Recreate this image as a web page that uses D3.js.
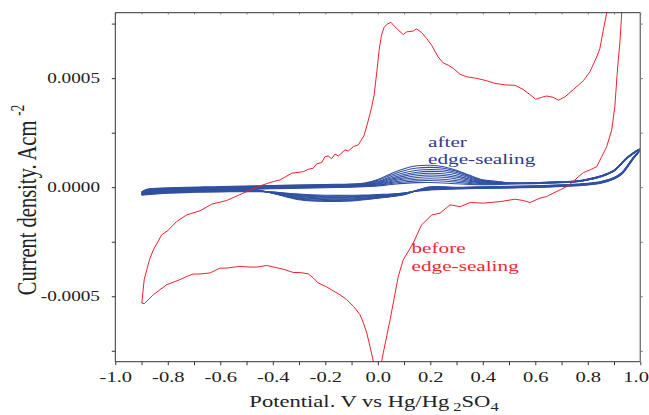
<!DOCTYPE html>
<html><head><meta charset="utf-8">
<script src="https://cdn.jsdelivr.net/npm/d3@7"></script>
<style>body{margin:0;background:#fff}svg{display:block}</style>
</head><body>
<svg id="c" width="649" height="415"></svg>
<script>
// ---------- DATA ----------
// axis ticks
const xMajor = [-1.0,-0.8,-0.6,-0.4,-0.2,0.0,0.2,0.4,0.6,0.8,1.0];
const xLabels = ["-1.0","-0.8","-0.6","-0.4","-0.2","0.0","0.2","0.4","0.6","0.8","1.0"];
const xMinor = [-0.9,-0.7,-0.5,-0.3,-0.1,0.1,0.3,0.5,0.7,0.9];
const yMajor = [-0.0005,0.0,0.0005];
const yLabels = ["-0.0005","0.0000","0.0005"];
const yMinor = [-0.00075,-0.00025,0.00025,0.00075];

// "before edge-sealing" CV loop (V vs Hg/Hg2SO4, current density in 1e-4 A cm^-2)
const redV = [-0.899,-0.890,-0.870,-0.855,-0.823,-0.800,-0.766,-0.728,-0.677,-0.633,-0.576,-0.512,-0.449,-0.398,-0.373,-0.328,-0.284,-0.265,-0.246,-0.233,-0.214,-0.201,-0.189,-0.176,-0.163,-0.150,-0.125,-0.112,-0.093,-0.074,-0.068,-0.053,-0.041,-0.026,-0.014,-0.003,0.005,0.014,0.024,0.035,0.050,0.072,0.097,0.110,0.135,0.148,0.167,0.186,0.205,0.230,0.249,0.269,0.288,0.313,0.339,0.377,0.415,0.446,0.485,0.523,0.554,0.579,0.602,0.624,0.643,0.668,0.688,0.713,0.745,0.783,0.808,0.834,0.846,0.859,0.872,0.890,1.000,0.935,0.929,0.923,0.916,0.912,0.903,0.891,0.872,0.853,0.834,0.808,0.783,0.764,0.745,0.720,0.695,0.669,0.643,0.618,0.580,0.554,0.523,0.466,0.402,0.352,0.314,0.275,0.237,0.206,0.167,0.135,0.097,0.078,0.047,0.021,0.015,0.000,-0.017,-0.030,-0.042,-0.055,-0.068,-0.093,-0.118,-0.144,-0.170,-0.195,-0.227,-0.246,-0.265,-0.297,-0.322,-0.354,-0.379,-0.423,-0.461,-0.487,-0.525,-0.576,-0.601,-0.639,-0.677,-0.703,-0.722,-0.754,-0.804,-0.830,-0.855,-0.890,-0.899];
const redJ = [-5.31,-4.24,-3.33,-2.87,-2.18,-1.99,-1.57,-1.27,-1.08,-0.78,-0.61,-0.27,0.06,0.26,0.33,0.64,0.71,0.82,0.87,1.07,1.13,1.40,1.43,1.31,1.52,1.43,1.71,1.66,1.86,1.94,2.07,2.35,2.85,3.54,4.22,5.37,6.28,6.97,7.33,7.47,7.56,7.27,7.00,7.12,7.16,7.26,7.09,6.82,6.51,5.97,5.70,5.59,5.44,5.18,5.06,4.99,4.88,4.76,4.69,4.67,4.48,4.25,4.03,4.12,4.18,4.12,3.99,4.14,4.48,4.88,5.29,5.97,6.36,7.20,7.99,9.60,16.0,9.20,7.99,6.74,5.82,5.21,3.69,2.62,1.86,1.40,0.94,0.79,0.67,0.48,0.26,0.03,-0.12,-0.27,-0.43,-0.50,-0.70,-0.61,-0.55,-0.66,-0.73,-0.70,-0.89,-0.81,-1.19,-1.27,-1.72,-2.56,-3.33,-4.09,-6.07,-7.59,-7.98,-9.00,-7.98,-7.29,-6.68,-6.22,-5.84,-5.46,-5.16,-4.93,-4.75,-4.57,-4.39,-4.16,-3.97,-3.91,-3.91,-3.78,-3.71,-3.59,-3.66,-3.66,-3.63,-3.71,-3.71,-3.93,-3.98,-3.98,-4.06,-4.24,-4.47,-4.70,-4.93,-5.34,-5.31];

// "after edge-sealing" repeated cycles (current density in 1e-5 A cm^-2)
const blueAnodicLeftV  = [-0.90,-0.88,-0.80,-0.60,-0.40,-0.20,-0.10];
const blueAnodicLeftJ  = [-2.90,-1.70,-1.05,-0.45,0.05,0.50,0.75];
const humpAV = [-0.05,0.00,0.05,0.10,0.15,0.20,0.25,0.30,0.35,0.40,0.45];
const blueAnodicRightV = [0.50,0.60,0.70,0.75,0.80,0.85,0.90,0.95,1.00];
const blueAnodicRightJ = [1.75,1.85,2.30,2.60,3.50,5.00,7.60,13.5,17.4];
const blueCathodicRightV = [0.97,0.93,0.90,0.85,0.80,0.70,0.60,0.50,0.40,0.30];
const blueCathodicRightJ = [12.8,6.40,4.10,2.20,1.40,0.70,0.25,0.00,-0.18,-0.41];
const humpCV = [0.20,0.15,0.10,0.05,0.00,-0.05,-0.10,-0.15,-0.20,-0.25,-0.30,-0.35,-0.40,-0.45,-0.50];
const blueCathodicLeftV = [-0.60,-0.70,-0.80,-0.90];
const blueCathodicLeftJ = [-1.40,-1.60,-2.00,-2.90];
const blueShift = [-0.75,-0.55,-0.40,-0.22,-0.08,0.08,0.25,0.40,0.58,0.75];
const humpA = [
 [1.00,1.35,1.95,2.50,2.85,2.90,2.70,2.35,2.00,1.90,1.88],
 [1.00,1.45,2.25,2.95,3.45,3.60,3.35,2.85,2.25,1.95,1.88],
 [1.02,1.55,2.55,3.45,4.05,4.30,4.05,3.40,2.55,2.00,1.90],
 [1.02,1.65,2.85,3.95,4.70,5.00,4.80,4.00,2.90,2.10,1.90],
 [1.04,1.80,3.20,4.45,5.30,5.65,5.45,4.60,3.25,2.20,1.92],
 [1.05,1.95,3.55,5.00,5.95,6.30,6.10,5.20,3.60,2.30,1.93],
 [1.06,2.10,3.95,5.60,6.65,7.00,6.80,5.80,4.00,2.40,1.95],
 [1.08,2.30,4.40,6.25,7.40,7.75,7.50,6.35,4.30,2.50,1.95],
 [1.10,2.55,4.90,7.00,8.20,8.50,8.10,6.75,4.55,2.60,1.97],
 [1.12,2.80,5.45,7.75,9.06,9.29,8.60,7.00,4.71,2.65,1.97]
];
const humpC = [
 [-0.55,-1.00,-1.90,-2.35,-2.60,-2.85,-2.95,-3.00,-2.95,-2.75,-2.40,-1.95,-1.50,-1.30,-1.30],
 [-0.55,-1.15,-2.15,-2.70,-3.00,-3.30,-3.45,-3.50,-3.45,-3.25,-2.85,-2.30,-1.70,-1.35,-1.30],
 [-0.55,-1.25,-2.40,-3.00,-3.35,-3.70,-3.90,-4.00,-3.95,-3.70,-3.30,-2.65,-1.95,-1.45,-1.35],
 [-0.55,-1.35,-2.65,-3.30,-3.75,-4.15,-4.40,-4.50,-4.45,-4.20,-3.75,-3.00,-2.20,-1.55,-1.35],
 [-0.55,-1.50,-2.90,-3.60,-4.10,-4.55,-4.85,-5.00,-4.95,-4.70,-4.20,-3.35,-2.45,-1.65,-1.40],
 [-0.55,-1.60,-3.15,-3.95,-4.50,-5.00,-5.35,-5.50,-5.45,-5.20,-4.70,-3.75,-2.70,-1.75,-1.40],
 [-0.55,-1.75,-3.40,-4.25,-4.85,-5.40,-5.80,-6.00,-5.95,-5.70,-5.15,-4.15,-2.95,-1.90,-1.42],
 [-0.55,-1.85,-3.65,-4.55,-5.20,-5.80,-6.25,-6.45,-6.45,-6.20,-5.60,-4.50,-3.20,-2.00,-1.44],
 [-0.55,-2.00,-3.95,-4.85,-5.50,-6.15,-6.65,-6.90,-6.90,-6.65,-6.05,-4.80,-3.35,-2.10,-1.45],
 [-0.55,-2.15,-4.21,-5.12,-5.81,-6.50,-7.09,-7.32,-7.32,-7.09,-6.50,-5.12,-3.52,-2.15,-1.46]
];

// ---------- DRAW ----------
const svg = d3.select("#c");
const L = 115.3, R = 640.3, T = 12.7, B = 361.7;
const x = d3.scaleLinear().domain([-1, 1]).range([L, R]);
const y = d3.scaleLinear().domain([-0.0008, 0.0008]).range([B, T]);
const SX = 1.37; // horizontal glyph stretch of the original
const FONT = "'Liberation Serif','Times New Roman',serif";

svg.append("defs").append("clipPath").attr("id","clip")
  .append("rect").attr("x",L).attr("y",T).attr("width",R-L).attr("height",B-T);

const plot = svg.append("g").attr("clip-path","url(#clip)");

// blue cycles
const U5 = 1e-5;
const blueLine = d3.line().x(d=>x(d[0])).y(d=>y(d[1])).curve(d3.curveCatmullRom.alpha(0.5));
humpA.forEach((ha,k)=>{
  const s = blueShift[k];
  const pts = [];
  blueAnodicLeftV.forEach((v,i)=>pts.push([v,(blueAnodicLeftJ[i]+s)*U5]));
  humpAV.forEach((v,i)=>pts.push([v,(ha[i]+s)*U5]));
  blueAnodicRightV.forEach((v,i)=>pts.push([v,(blueAnodicRightJ[i]+s*0.3)*U5]));
  blueCathodicRightV.forEach((v,i)=>pts.push([v,(blueCathodicRightJ[i]+s*0.5)*U5]));
  humpCV.forEach((v,i)=>pts.push([v,(humpC[k][i]+s)*U5]));
  blueCathodicLeftV.forEach((v,i)=>pts.push([v,(blueCathodicLeftJ[i]+s)*U5]));
  plot.append("path").attr("d",blueLine(pts)).attr("fill","none")
    .attr("stroke","#3050a2").attr("stroke-width",1.05);
});

// red curve
const redLine = d3.line().x((d,i)=>x(redV[i])).y((d,i)=>y(redJ[i]*1e-4));
plot.append("path").attr("d",redLine(redV)).attr("fill","none")
  .attr("stroke","#f0212b").attr("stroke-width",1);

// axes
function styleAxis(g, color){
  g.select(".domain").remove();
  g.selectAll(".tick line").attr("stroke",color).attr("stroke-width",1);
}
const gx = svg.append("g").attr("transform",`translate(0,${B})`)
  .call(d3.axisBottom(x).tickValues(xMajor).tickSize(3.5).tickPadding(6.2)
    .tickFormat((d,i)=>xLabels[i]));
styleAxis(gx,"#333");
gx.selectAll("text").attr("font-family",FONT).attr("font-size",15).attr("fill","#222")
  .attr("transform",`scale(${SX},1)`);
// last label sits flush with the right edge
gx.selectAll("text").filter((d,i)=>i===xMajor.length-1)
  .attr("text-anchor","end").attr("x",8.2/SX);
const gx2 = svg.append("g").attr("transform",`translate(0,${B})`)
  .call(d3.axisBottom(x).tickValues(xMinor).tickSize(3.5).tickFormat(""));
styleAxis(gx2,"#333");

const gy = svg.append("g").attr("transform",`translate(${L},0)`)
  .call(d3.axisLeft(y).tickValues(yMajor).tickSize(3.5).tickPadding(7.7)
    .tickFormat((d,i)=>yLabels[i]));
styleAxis(gy,"#333");
gy.selectAll("text").attr("font-family",FONT).attr("font-size",14).attr("fill","#222")
  .attr("transform",`scale(${SX},1)`);
const gy2 = svg.append("g").attr("transform",`translate(${L},0)`)
  .call(d3.axisLeft(y).tickValues(yMinor).tickSize(3.5).tickFormat(""));
styleAxis(gy2,"#333");

const gr = svg.append("g").attr("transform",`translate(${R},0)`)
  .call(d3.axisRight(y).tickValues(yMajor.concat(yMinor)).tickSize(2.5).tickFormat(""));
styleAxis(gr,"#777");
const gt = svg.append("g").attr("transform",`translate(0,${T})`)
  .call(d3.axisTop(x).tickValues(xMajor.concat(xMinor)).tickSize(-2).tickFormat(""));
styleAxis(gt,"#999");

// frame
svg.append("line").attr("x1",L).attr("x2",R).attr("y1",T).attr("y2",T).attr("stroke","#333");
svg.append("line").attr("x1",L).attr("x2",R).attr("y1",B).attr("y2",B).attr("stroke","#333");
svg.append("line").attr("x1",L).attr("x2",L).attr("y1",T).attr("y2",B).attr("stroke","#333");
svg.append("line").attr("x1",R).attr("x2",R).attr("y1",T).attr("y2",B).attr("stroke","#777").attr("stroke-width",1.4);

// axis titles
const xt = svg.append("text").attr("font-family",FONT).attr("font-size",16.5).attr("fill","#222")
  .attr("text-anchor","middle").attr("transform",`translate(374,406.7) scale(${SX},1)`);
xt.append("tspan").text("Potential. V vs Hg/Hg");
xt.append("tspan").attr("font-size",12).attr("dy",4).attr("dx",3).text("2");
xt.append("tspan").attr("dy",-4).text("SO");
xt.append("tspan").attr("font-size",12).attr("dy",4).text("4");

const yt = svg.append("text").attr("font-family",FONT).attr("font-size",20.5).attr("fill","#222")
  .attr("text-anchor","middle").attr("transform",`translate(36,200) rotate(-90) scale(1,${SX})`);
yt.append("tspan").text("Current density. Acm");
yt.append("tspan").attr("font-size",13).attr("dy",-9).attr("dx",5).text("-2");

// annotations
function label(lines, x0, y0, color){
  lines.forEach((t,i)=>{
    svg.append("text").attr("font-family",FONT).attr("font-size",15.5).attr("fill",color)
      .attr("transform",`translate(${x0},${y0+i*17.5}) scale(${SX},1)`).text(t);
  });
}
label(["after","edge-sealing"], 428, 146.5, "#2e3a8e");
label(["before","edge-sealing"], 411.5, 253, "#ee2a30");
</script>
</body></html>
